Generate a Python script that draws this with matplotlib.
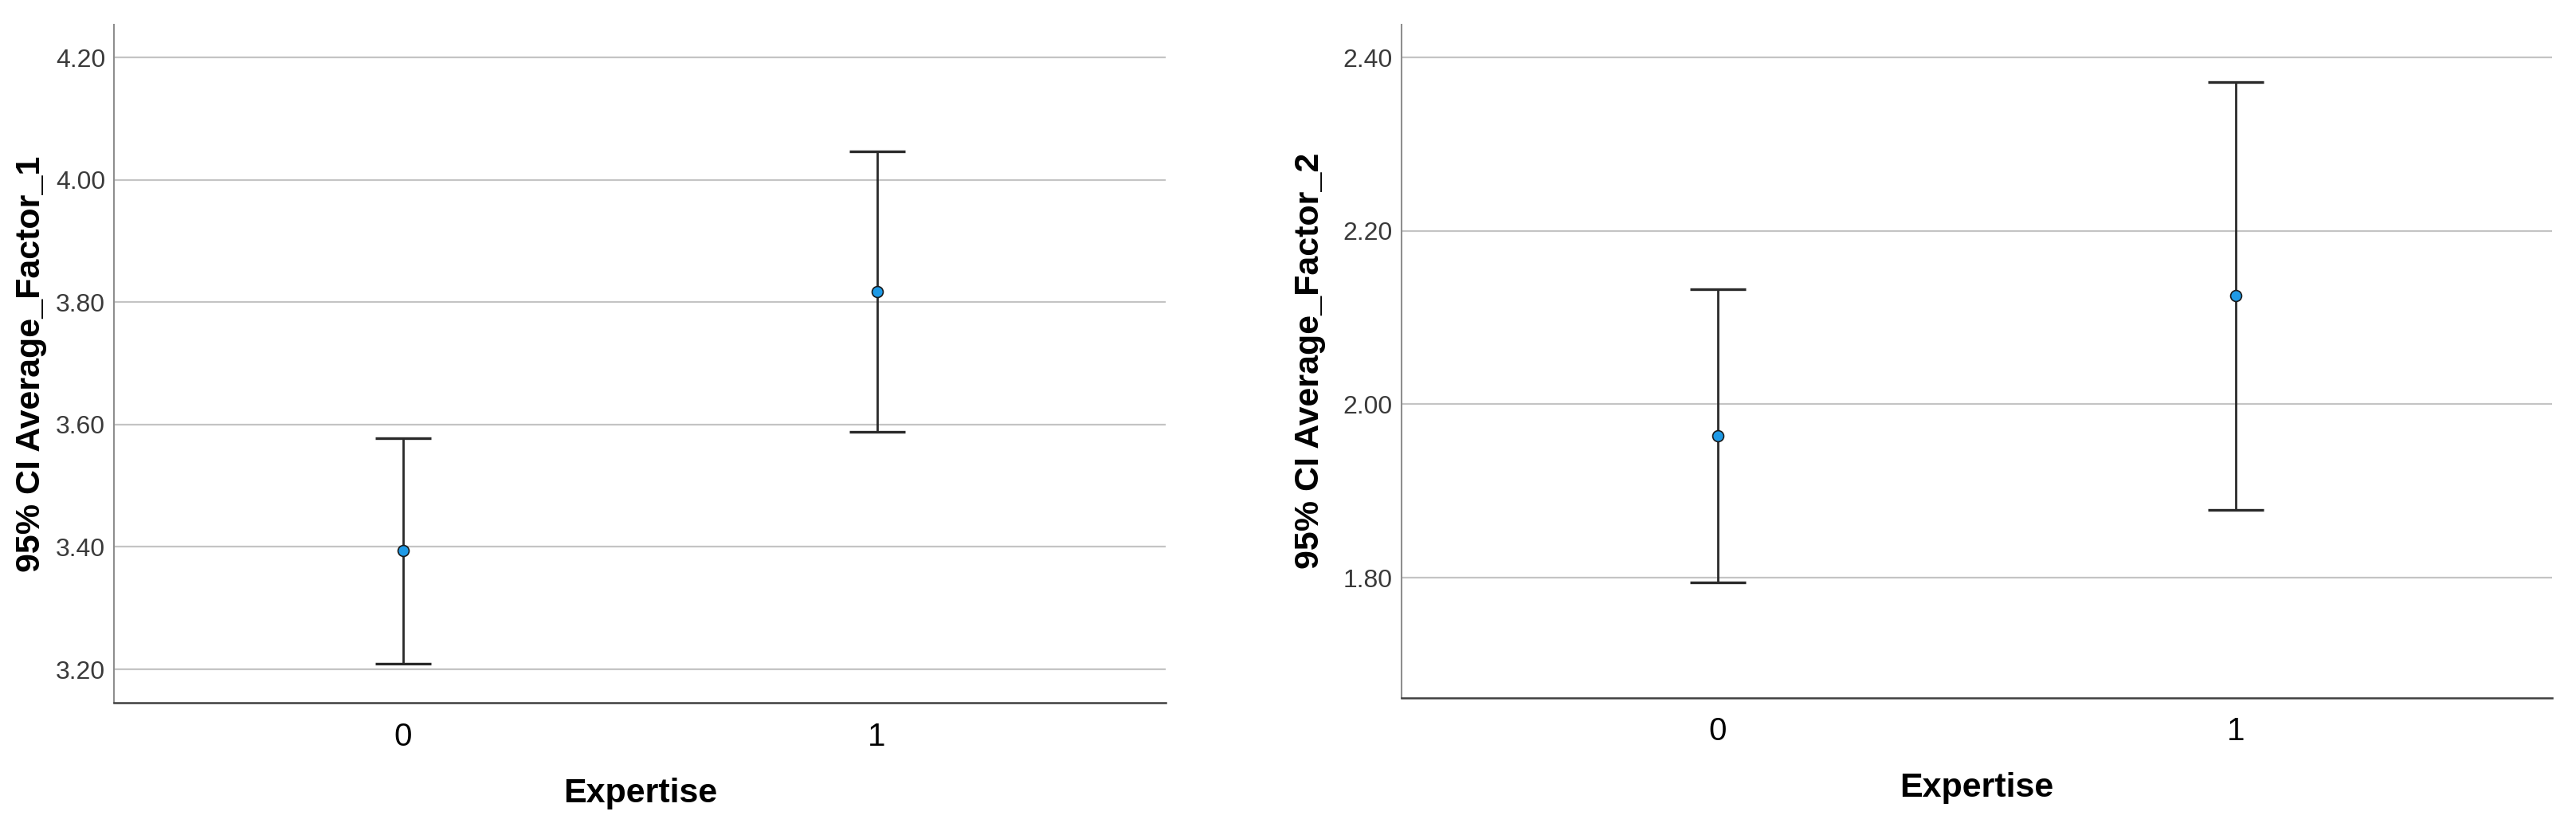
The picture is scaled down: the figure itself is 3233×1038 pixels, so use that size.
import numpy as np
import matplotlib
matplotlib.use('Agg')
import matplotlib.pyplot as plt

# data
groups = ['0', '1']

f1_mean = [3.394, 3.817]
f1_low = [3.209, 3.588]
f1_high = [3.578, 4.047]
f1_ticks = [3.20, 3.40, 3.60, 3.80, 4.00, 4.20]

f2_mean = [1.964, 2.125]
f2_low = [1.795, 1.878]
f2_high = [2.133, 2.372]
f2_ticks = [1.80, 2.00, 2.20, 2.40]

narrow = ['Liberation Sans Narrow', 'Liberation Sans', 'DejaVu Sans']
wide = ['Liberation Sans', 'DejaVu Sans']


def draw_panel(ax, mean, low, high, ticks, ylim, ylabel, lab_x):
    x = np.arange(len(groups))
    mean = np.array(mean)
    err = np.vstack((mean - np.array(low), np.array(high) - mean))

    for t in ticks:
        ax.axhline(t, color='#c4c4c4', lw=1.6, zorder=0)

    ax.errorbar(x, mean, yerr=err, fmt='none', ecolor='#2a2a2a',
                elinewidth=2.0, capsize=25, capthick=2.4, zorder=2)
    ax.plot(x, mean, 'o', ms=10, mfc='#1f9ae6', mec='#1a1a1a', mew=1.2,
            zorder=3)

    ax.set_xlim(-0.61, 1.61)
    ax.set_ylim(*ylim)
    ax.set_xticks(x)
    ax.set_xticklabels(groups, fontfamily=wide, fontsize=29, color='black')
    ax.set_yticks(ticks)
    ax.set_yticklabels(['%.2f' % t for t in ticks], fontfamily=narrow,
                       fontsize=23, color='#3a3a3a')
    ax.tick_params(axis='both', length=0)
    ax.tick_params(axis='y', pad=8)
    ax.tick_params(axis='x', pad=17)

    ax.spines['top'].set_visible(False)
    ax.spines['right'].set_visible(False)
    ax.spines['left'].set_color('#8e8e8e')
    ax.spines['left'].set_linewidth(1.5)
    ax.spines['bottom'].set_color('#404040')
    ax.spines['bottom'].set_linewidth(1.8)

    ax.set_xlabel('Expertise', fontfamily=narrow, fontweight='bold',
                  fontsize=31, labelpad=23)
    ax.set_ylabel(ylabel, fontfamily=wide, fontweight='bold', fontsize=31)
    ax.yaxis.set_label_coords(lab_x, 0.5)


fig = plt.figure(figsize=(32.33, 10.38), dpi=100)
ax1 = fig.add_axes([0.04432, 0.15, 0.4083, 0.8204])
ax2 = fig.add_axes([0.5441, 0.1564, 0.4466, 0.8141])

draw_panel(ax1, f1_mean, f1_low, f1_high, f1_ticks, (3.145, 4.254),
           '95% CI Average_Factor_1', -0.064)
draw_panel(ax2, f2_mean, f2_low, f2_high, f2_ticks, (1.6616, 2.4382),
           '95% CI Average_Factor_2', -0.066)

plt.savefig('out.png', dpi=100)
